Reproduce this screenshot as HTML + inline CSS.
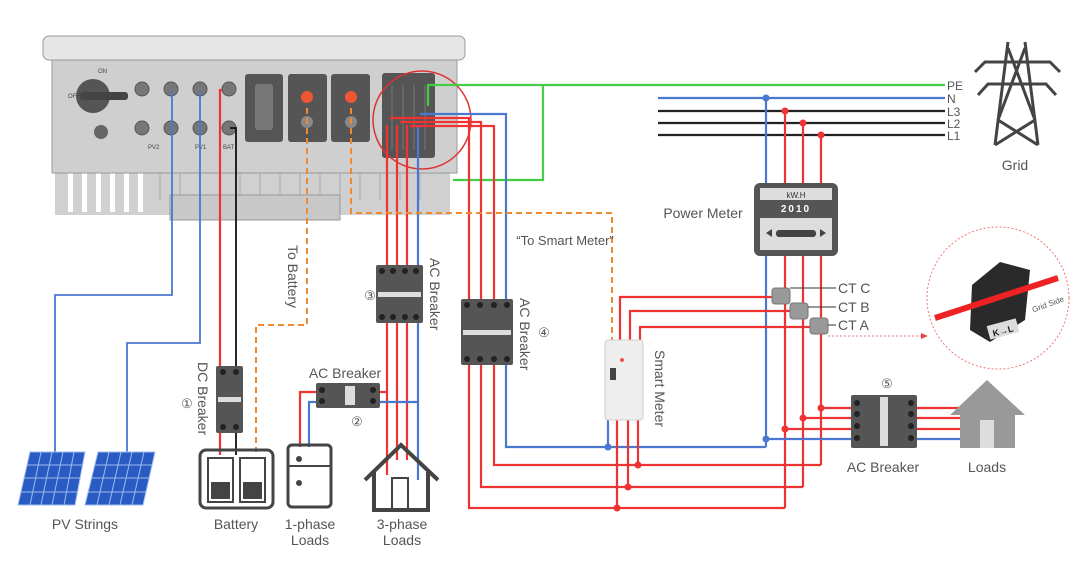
<!DOCTYPE html>
<html><head><meta charset="utf-8"><style>
html,body{margin:0;padding:0;background:#fff;}
svg{display:block;font-family:"Liberation Sans",sans-serif;}
.t{fill:#555;font-size:14px;}
</style></head><body>
<svg width="1080" height="569" viewBox="0 0 1080 569" xmlns="http://www.w3.org/2000/svg">
<!-- Inverter -->
<rect x="55" y="165" width="395" height="50" fill="#d0d0d0"/>
<g fill="#fff">
<rect x="68" y="172" width="5" height="40"/><rect x="82" y="172" width="5" height="40"/><rect x="96" y="172" width="5" height="40"/><rect x="110" y="172" width="5" height="40"/><rect x="124" y="172" width="5" height="40"/><rect x="138" y="172" width="5" height="40"/>
</g>
<g stroke="#aaa" stroke-width="1">
<line x1="160" y1="172" x2="160" y2="200"/><line x1="180" y1="172" x2="180" y2="200"/><line x1="200" y1="172" x2="200" y2="200"/><line x1="220" y1="172" x2="220" y2="200"/><line x1="240" y1="172" x2="240" y2="200"/><line x1="260" y1="172" x2="260" y2="200"/><line x1="280" y1="172" x2="280" y2="200"/><line x1="300" y1="172" x2="300" y2="200"/><line x1="320" y1="172" x2="320" y2="200"/><line x1="340" y1="172" x2="340" y2="200"/><line x1="360" y1="172" x2="360" y2="200"/><line x1="380" y1="172" x2="380" y2="200"/><line x1="400" y1="172" x2="400" y2="200"/><line x1="420" y1="172" x2="420" y2="200"/>
</g>
<rect x="170" y="195" width="170" height="25" fill="#c8c8c8" stroke="#999"/>
<rect x="52" y="58" width="405" height="115" fill="#cfcfcf" stroke="#999"/>
<rect x="43" y="36" width="422" height="24" rx="6" fill="#e6e6e6" stroke="#999"/>
<circle cx="93" cy="96" r="17" fill="#555"/><rect x="80" y="92" width="48" height="8" rx="3" fill="#444"/>
<text x="98" y="73" font-size="6" fill="#444">ON</text><text x="68" y="98" font-size="6" fill="#444">OFF</text>
<circle cx="101" cy="132" r="7" fill="#666"/>
<g fill="#777" stroke="#555">
<circle cx="142" cy="89" r="7"/><circle cx="171" cy="89" r="7"/><circle cx="200" cy="89" r="7"/><circle cx="229" cy="89" r="7"/>
<circle cx="142" cy="128" r="7"/><circle cx="171" cy="128" r="7"/><circle cx="200" cy="128" r="7"/><circle cx="229" cy="128" r="7"/>
</g>
<text x="148" y="149" font-size="6" fill="#444">PV2</text><text x="195" y="149" font-size="6" fill="#444">PV1</text><text x="223" y="149" font-size="6" fill="#444">BAT</text>
<rect x="245" y="74" width="38" height="68" rx="3" fill="#555"/><rect x="255" y="84" width="18" height="46" rx="3" fill="#777"/>
<rect x="288" y="74" width="39" height="68" rx="3" fill="#555"/><circle cx="307" cy="97" r="6" fill="#e53"/><circle cx="307" cy="122" r="6" fill="#888"/>
<rect x="331" y="74" width="39" height="68" rx="3" fill="#555"/><circle cx="351" cy="97" r="6" fill="#e53"/><circle cx="351" cy="122" r="6" fill="#888"/>
<rect x="382" y="73" width="53" height="85" rx="3" fill="#555"/>
<g stroke="#777"><line x1="392" y1="85" x2="392" y2="150"/><line x1="403" y1="85" x2="403" y2="150"/><line x1="414" y1="85" x2="414" y2="150"/><line x1="425" y1="85" x2="425" y2="150"/></g>
<circle cx="422" cy="120" r="49" fill="none" stroke="#d33" stroke-width="1.5"/>
<g fill="none" stroke-width="2.2">
<polyline points="428,106 428,85 945,85" stroke="#4c4"/>
<polyline points="453,180 543,180 543,85" stroke="#4c4"/>
<line x1="658" y1="98" x2="945" y2="98" stroke="#4a78d0"/>
<line x1="658" y1="111" x2="945" y2="111" stroke="#222"/>
<line x1="658" y1="123" x2="945" y2="123" stroke="#222"/>
<line x1="658" y1="135" x2="945" y2="135" stroke="#222"/>
<polyline points="172,90 172,295 55,295 55,455" stroke="#4a78d0" stroke-width="1.8"/>
<polyline points="200,90 200,343 127,343 127,455" stroke="#4a78d0" stroke-width="1.8"/>
<polyline points="222,90 220,90 220,455" stroke="#e33"/>
<polyline points="230,128 236,128 236,455" stroke="#111" stroke-width="1.8"/>
<line x1="387" y1="125" x2="387" y2="475" stroke="#e33"/>
<line x1="397" y1="125" x2="397" y2="460" stroke="#e33"/>
<line x1="407" y1="125" x2="407" y2="460" stroke="#e33"/>
<line x1="418" y1="125" x2="418" y2="480" stroke="#4a78d0"/>
<polyline points="380,392 387,392" stroke="#e33"/>
<polyline points="380,402 418,402" stroke="#4a78d0"/>
<polyline points="316,392 300,392 300,447" stroke="#e33"/>
<polyline points="316,402 309,402 309,447" stroke="#4a78d0"/>
<polyline points="390,118 469,118 469,508 785,508" stroke="#e33"/>
<polyline points="400,122 481,122 481,487 803,487" stroke="#e33"/>
<polyline points="410,126 494,126 494,465 821,465" stroke="#e33"/>
<polyline points="420,114 506,114 506,447 766,447" stroke="#4a78d0"/>
<line x1="766" y1="98" x2="766" y2="447" stroke="#4a78d0"/>
<line x1="785" y1="111" x2="785" y2="508" stroke="#e33"/>
<line x1="803" y1="123" x2="803" y2="487" stroke="#e33"/>
<line x1="821" y1="135" x2="821" y2="465" stroke="#e33"/>
<line x1="821" y1="408" x2="960" y2="408" stroke="#e33"/>
<line x1="803" y1="418" x2="960" y2="418" stroke="#e33"/>
<line x1="785" y1="429" x2="960" y2="429" stroke="#e33"/>
<line x1="766" y1="439" x2="960" y2="439" stroke="#4a78d0"/>
<polyline points="620,340 620,297 780,297" stroke="#e33"/>
<polyline points="630,340 630,311 800,311" stroke="#e33"/>
<polyline points="640,340 640,327 820,327" stroke="#e33"/>
<line x1="608" y1="420" x2="608" y2="447" stroke="#4a78d0"/>
<line x1="617" y1="420" x2="617" y2="508" stroke="#e33"/>
<line x1="628" y1="420" x2="628" y2="487" stroke="#e33"/>
<line x1="638" y1="420" x2="638" y2="465" stroke="#e33"/>
</g>
<g fill="none" stroke="#f08a30" stroke-width="2" stroke-dasharray="6,4">
<polyline points="307,108 307,325 256,325 256,452"/>
<polyline points="351,108 351,213 612,213 612,340"/>
</g>
<g fill="#e33">
<circle cx="785" cy="111" r="3.5"/><circle cx="803" cy="123" r="3.5"/><circle cx="821" cy="135" r="3.5"/>
<circle cx="821" cy="408" r="3.5"/><circle cx="803" cy="418" r="3.5"/><circle cx="785" cy="429" r="3.5"/>
<circle cx="617" cy="508" r="3.5"/><circle cx="628" cy="487" r="3.5"/><circle cx="638" cy="465" r="3.5"/>
</g>
<g fill="#4a78d0"><circle cx="766" cy="98" r="3.5"/><circle cx="766" cy="439" r="3.5"/><circle cx="608" cy="447" r="3.5"/></g>
<!-- breakers -->
<g fill="#555">
<rect x="216" y="366" width="27" height="67" rx="2"/>
<rect x="376" y="265" width="47" height="58" rx="2"/>
<rect x="461" y="299" width="52" height="66" rx="2"/>
<rect x="316" y="383" width="64" height="25" rx="2"/>
<rect x="851" y="395" width="66" height="53" rx="2"/>
</g>
<g fill="#ddd"><rect x="218" y="397" width="23" height="5"/><rect x="378" y="292" width="43" height="5"/><rect x="463" y="330" width="48" height="5"/><rect x="345" y="386" width="10" height="19"/><rect x="880" y="397" width="8" height="49"/></g>
<g fill="#222">
<circle cx="223" cy="372" r="3"/><circle cx="236" cy="372" r="3"/><circle cx="223" cy="427" r="3"/><circle cx="236" cy="427" r="3"/>
<circle cx="382" cy="271" r="3"/><circle cx="393" cy="271" r="3"/><circle cx="405" cy="271" r="3"/><circle cx="416" cy="271" r="3"/>
<circle cx="382" cy="317" r="3"/><circle cx="393" cy="317" r="3"/><circle cx="405" cy="317" r="3"/><circle cx="416" cy="317" r="3"/>
<circle cx="467" cy="305" r="3"/><circle cx="480" cy="305" r="3"/><circle cx="494" cy="305" r="3"/><circle cx="507" cy="305" r="3"/>
<circle cx="467" cy="359" r="3"/><circle cx="480" cy="359" r="3"/><circle cx="494" cy="359" r="3"/><circle cx="507" cy="359" r="3"/>
<circle cx="322" cy="390" r="3"/><circle cx="322" cy="401" r="3"/><circle cx="373" cy="390" r="3"/><circle cx="373" cy="401" r="3"/>
<circle cx="857" cy="403" r="3"/><circle cx="857" cy="414" r="3"/><circle cx="857" cy="426" r="3"/><circle cx="857" cy="438" r="3"/>
<circle cx="911" cy="403" r="3"/><circle cx="911" cy="414" r="3"/><circle cx="911" cy="426" r="3"/><circle cx="911" cy="438" r="3"/>
</g>
<!-- Power meter -->
<rect x="754" y="183" width="84" height="73" rx="6" fill="#555"/>
<rect x="760" y="188" width="72" height="12" fill="#ddd"/>
<text x="796" y="198" font-size="8" text-anchor="middle" fill="#333">kW.H</text>
<text x="796" y="212" font-size="10" font-weight="bold" text-anchor="middle" fill="#fff" letter-spacing="2">2010</text>
<rect x="760" y="218" width="72" height="32" fill="#ddd"/>
<rect x="776" y="230" width="40" height="7" rx="3" fill="#444"/>
<polygon points="766,233 772,229 772,237" fill="#444"/><polygon points="826,233 820,229 820,237" fill="#444"/>
<g fill="#999" stroke="#777"><rect x="772" y="288" width="18" height="16" rx="3"/><rect x="790" y="303" width="18" height="16" rx="3"/><rect x="810" y="318" width="18" height="16" rx="3"/></g>
<g stroke="#333" stroke-width="1"><line x1="790" y1="288" x2="836" y2="288"/><line x1="808" y1="307" x2="836" y2="307"/><line x1="828" y1="325" x2="836" y2="325"/></g>
<line x1="828" y1="336" x2="922" y2="336" stroke="#e77" stroke-dasharray="2,2"/>
<polygon points="928,336 921,333 921,339" fill="#e44"/>
<text class="t" x="838" y="293" font-size="13">CT C</text>
<text class="t" x="838" y="312" font-size="13">CT B</text>
<text class="t" x="838" y="330" font-size="13">CT A</text>
<circle cx="998" cy="298" r="71" fill="#fff" stroke="#e77" stroke-dasharray="2,2"/>
<path d="M972 285 L1000 262 L1030 270 L1025 320 L990 342 L970 330 Z" fill="#2a2a2a"/>
<line x1="935" y1="318" x2="1058" y2="278" stroke="#e22" stroke-width="6"/>
<rect x="988" y="322" width="30" height="14" fill="#ddd" transform="rotate(-15 1003 329)"/>
<text x="992" y="334" font-size="9" font-weight="bold" fill="#222" transform="rotate(-15 1003 329)">K→L</text>
<text x="1030" y="306" font-size="8" fill="#555" transform="rotate(-20 1050 300)">Grid Side</text>
<rect x="605" y="340" width="38" height="80" rx="3" fill="#eee" stroke="#ccc"/>
<rect x="610" y="368" width="6" height="12" fill="#444"/>
<circle cx="622" cy="360" r="2" fill="#e55"/>
<!-- PV panels -->
<g fill="#2a5bc2" stroke="#9bbcf0" stroke-width="1">
<polygon points="30,452 85,452 75,505 18,505"/>
<polygon points="98,452 155,452 143,505 85,505"/>
</g>
<g stroke="#9bbcf0" stroke-width="1">
<line x1="27" y1="465" x2="82" y2="465"/><line x1="24" y1="478" x2="80" y2="478"/><line x1="21" y1="492" x2="77" y2="492"/>
<line x1="41" y1="452" x2="30" y2="505"/><line x1="52" y1="452" x2="41" y2="505"/><line x1="63" y1="452" x2="52" y2="505"/><line x1="74" y1="452" x2="64" y2="505"/>
<line x1="95" y1="465" x2="152" y2="465"/><line x1="92" y1="478" x2="149" y2="478"/><line x1="88" y1="492" x2="146" y2="492"/>
<line x1="109" y1="452" x2="97" y2="505"/><line x1="121" y1="452" x2="109" y2="505"/><line x1="132" y1="452" x2="120" y2="505"/><line x1="144" y1="452" x2="132" y2="505"/>
</g>
<rect x="200" y="450" width="73" height="58" rx="6" fill="none" stroke="#444" stroke-width="3"/>
<rect x="208" y="458" width="25" height="44" fill="none" stroke="#444" stroke-width="2"/>
<rect x="240" y="458" width="25" height="44" fill="none" stroke="#444" stroke-width="2"/>
<rect x="211" y="482" width="19" height="17" fill="#444"/><rect x="243" y="482" width="19" height="17" fill="#444"/>
<rect x="288" y="445" width="43" height="62" rx="4" fill="none" stroke="#444" stroke-width="3"/>
<line x1="288" y1="466" x2="331" y2="466" stroke="#444" stroke-width="2"/>
<circle cx="299" cy="459" r="3" fill="#444"/><circle cx="299" cy="483" r="3" fill="#444"/>
<polyline points="365,480 401,445 438,480" fill="none" stroke="#444" stroke-width="4"/>
<polyline points="374,472 374,510 428,510 428,472" fill="none" stroke="#444" stroke-width="4"/>
<rect x="392" y="478" width="16" height="32" fill="none" stroke="#444" stroke-width="2"/>
<polygon points="950,415 987,380 1025,415 1015,415 1015,448 960,448 960,415" fill="#999"/>
<rect x="980" y="420" width="14" height="28" fill="#ddd"/>
<!-- tower -->
<g stroke="#444" stroke-width="3" fill="none">
<line x1="1008" y1="42" x2="995" y2="145"/><line x1="1025" y1="42" x2="1038" y2="145"/>
<polyline points="975,72 985,62 1050,62 1060,72"/>
<polyline points="978,95 988,84 1046,84 1056,95"/>
<line x1="1008" y1="48" x2="1035" y2="120"/><line x1="1025" y1="48" x2="998" y2="120"/>
<line x1="998" y1="120" x2="1038" y2="145"/><line x1="1035" y1="120" x2="995" y2="145"/>
</g>
<g class="t">
<text x="947" y="90" font-size="12">PE</text><text x="947" y="103" font-size="12">N</text><text x="947" y="116" font-size="12">L3</text><text x="947" y="128" font-size="12">L2</text><text x="947" y="140" font-size="12">L1</text>
<text x="1015" y="170" text-anchor="middle">Grid</text>
<text x="703" y="218" text-anchor="middle">Power Meter</text>
<text x="565" y="245" text-anchor="middle" font-size="13">“To Smart Meter”</text>
<text x="85" y="529" text-anchor="middle">PV Strings</text>
<text x="236" y="529" text-anchor="middle">Battery</text>
<text x="310" y="529" text-anchor="middle">1-phase</text><text x="310" y="545" text-anchor="middle">Loads</text>
<text x="402" y="529" text-anchor="middle">3-phase</text><text x="402" y="545" text-anchor="middle">Loads</text>
<text x="345" y="378" text-anchor="middle">AC Breaker</text>
<text x="883" y="472" text-anchor="middle">AC Breaker</text>
<text x="987" y="472" text-anchor="middle">Loads</text>
<text x="187" y="408" text-anchor="middle" font-size="13">①</text>
<text x="357" y="426" text-anchor="middle" font-size="13">②</text>
<text x="370" y="300" text-anchor="middle" font-size="13">③</text>
<text x="544" y="337" text-anchor="middle" font-size="13">④</text>
<text x="887" y="388" text-anchor="middle" font-size="13">⑤</text>
<text transform="translate(288,245) rotate(90)">To Battery</text>
<text transform="translate(198,362) rotate(90)">DC Breaker</text>
<text transform="translate(430,258) rotate(90)">AC Breaker</text>
<text transform="translate(520,298) rotate(90)">AC Breaker</text>
<text transform="translate(655,350) rotate(90)">Smart Meter</text>
</g>
</svg>
</body></html>
